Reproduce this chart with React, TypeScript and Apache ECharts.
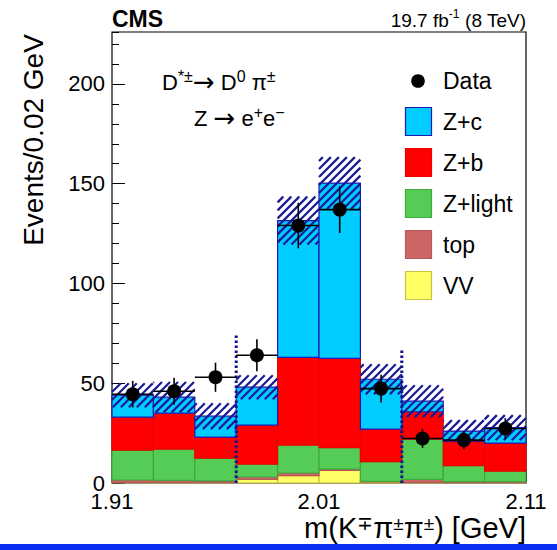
import React, { useEffect, useRef } from 'react';
import * as echarts from 'echarts';

// ---- data ----
const binEdges = [1.91, 1.93, 1.95, 1.97, 1.99, 2.01, 2.03, 2.05, 2.07, 2.09, 2.11];
const vvValues = [0.3, 0.3, 0.3, 1.8, 3.7, 6.3, 0.5, 0.3, 0.2, 0.2];
const topValues = [1.2, 1.0, 0.8, 1.2, 1.3, 0.7, 0.3, 1.5, 0.5, 0.5];
const zLightValues = [15.0, 15.7, 11.4, 6.5, 14.0, 10.7, 9.9, 20.2, 8.0, 5.3];
const zbValues = [16.5, 18.0, 10.5, 19.5, 44.0, 44.8, 16.3, 13.7, 12.3, 14.0];
const zcValues = [11.0, 8.0, 10.5, 19.0, 68.5, 87.8, 25.0, 5.3, 5.0, 7.7];
const mcUncertainty = [6.0, 7.6, 6.5, 6.0, 12.0, 13.0, 7.5, 8.0, 5.5, 6.3];
const dataValues = [44.5, 46, 53, 64, 129, 137, 47.3, 22.3, 21.5, 27.3];
const dataErrors = [6.7, 6.8, 7.3, 8.0, 11.4, 11.7, 6.9, 4.7, 4.6, 5.2];
const signalEdges = [1.97, 2.05];
const signalLineTops = [74.5, 67.5];
const xTickLabels = ['1.91', '2.01', '2.11'];
const yTickLabels = ['0', '50', '100', '150', '200'];

const componentNames = ['VV', 'top', 'Z+light', 'Z+b', 'Z+c'];
const componentValues = [vvValues, topValues, zLightValues, zbValues, zcValues];
const componentFill = ['#ffff66', '#cc6666', '#55cc55', '#ff0000', '#00ccff'];
const componentStroke = ['#c8c040', '#b85858', '#3fa83f', '#ee0000', '#1a1ab8'];

const FONT = '"Liberation Sans", Arial, Helvetica, sans-serif';

function App() {
  const ref = useRef<HTMLDivElement>(null);
  useEffect(() => {
    if (!ref.current) return;
    const chart = echarts.init(ref.current, null, { renderer: 'svg' });
    const nBins = binEdges.length - 1;

    // cumulative stacks
    const bases: number[] = new Array(nBins).fill(0);
    const stackSeries: any[] = componentValues.map((vals, k) => {
      const data = vals.map((v, i) => {
        const b = bases[i];
        bases[i] = b + v;
        return [binEdges[i], binEdges[i + 1], b, b + v];
      });
      return {
        type: 'custom',
        name: componentNames[k],
        xAxisIndex: 0,
        yAxisIndex: 0,
        encode: { x: [0, 1], y: [2, 3] },
        data,
        z: 2,
        renderItem: (params: any, api: any) => {
          const p0 = api.coord([api.value(0), api.value(3)]);
          const p1 = api.coord([api.value(1), api.value(2)]);
          return {
            type: 'rect',
            shape: { x: p0[0], y: p0[1], width: p1[0] - p0[0], height: p1[1] - p0[1] },
            style: { fill: componentFill[k], stroke: componentStroke[k], lineWidth: 1.2 },
          };
        },
      };
    });
    const totals = bases.slice();

    const hatchData = totals.map((t, i) => [binEdges[i], binEdges[i + 1], t - mcUncertainty[i], t + mcUncertainty[i]]);
    const hatchSeries = {
      type: 'custom',
      name: 'uncertainty',
      xAxisIndex: 0,
      yAxisIndex: 0,
      encode: { x: [0, 1], y: [2, 3] },
      data: hatchData,
      z: 3,
      renderItem: (params: any, api: any) => {
        const p0 = api.coord([api.value(0), api.value(3)]);
        const p1 = api.coord([api.value(1), api.value(2)]);
        const x0 = p0[0], x1 = p1[0], yT = p0[1], yB = p1[1];
        const s = 8;
        const children: any[] = [];
        const cMin = x0 + yT, cMax = x1 + yB;
        for (let c = Math.ceil(cMin / s) * s; c <= cMax; c += s) {
          const xa = Math.max(x0, c - yB);
          const xb = Math.min(x1, c - yT);
          if (xb - xa > 0.5) {
            children.push({
              type: 'line',
              shape: { x1: xa, y1: c - xa, x2: xb, y2: c - xb },
              style: { stroke: '#1a1a96', lineWidth: 2.2 },
            });
          }
        }
        return { type: 'group', children };
      },
    };

    const signalSeries = {
      type: 'custom',
      name: 'signal window',
      xAxisIndex: 0,
      yAxisIndex: 0,
      encode: { x: 0, y: [1, 2] },
      data: signalEdges.map((e, i) => [e, 0, signalLineTops[i]]),
      z: 4,
      renderItem: (params: any, api: any) => {
        const a = api.coord([api.value(0), api.value(1)]);
        const b = api.coord([api.value(0), api.value(2)]);
        return {
          type: 'line',
          shape: { x1: a[0], y1: a[1], x2: b[0], y2: b[1] },
          style: { stroke: '#121290', lineWidth: 3, lineDash: [2.5, 2.5] },
        };
      },
    };

    const errSeries = {
      type: 'custom',
      name: 'Data errors',
      xAxisIndex: 0,
      yAxisIndex: 0,
      encode: { x: [0, 1], y: [2, 3] },
      data: dataValues.map((v, i) => [binEdges[i], binEdges[i + 1], v - dataErrors[i], v + dataErrors[i], v]),
      z: 5,
      renderItem: (params: any, api: any) => {
        const xc = (api.value(0) + api.value(1)) / 2;
        const lo = api.coord([xc, api.value(2)]);
        const hi = api.coord([xc, api.value(3)]);
        const l = api.coord([api.value(0), api.value(4)]);
        const r = api.coord([api.value(1), api.value(4)]);
        return {
          type: 'group',
          children: [
            { type: 'line', shape: { x1: lo[0], y1: lo[1], x2: hi[0], y2: hi[1] }, style: { stroke: '#000', lineWidth: 1.6 } },
            { type: 'line', shape: { x1: l[0], y1: l[1], x2: r[0], y2: r[1] }, style: { stroke: '#000', lineWidth: 1.6 } },
          ],
        };
      },
    };

    const pointSeries = {
      type: 'scatter',
      name: 'Data',
      xAxisIndex: 0,
      yAxisIndex: 0,
      symbol: 'circle',
      symbolSize: 14,
      itemStyle: { color: '#000', opacity: 1 },
      z: 6,
      data: dataValues.map((v, i) => [(binEdges[i] + binEdges[i + 1]) / 2, v]),
    };

    // legend (drawn as graphic)
    const legendOrder = [4, 3, 2, 1, 0];
    const legendGraphics: any[] = [
      { type: 'circle', shape: { cx: 418, cy: 81, r: 6.8 }, style: { fill: '#000' } },
      { type: 'text', x: 443, y: 81, style: { text: 'Data', font: `23px ${FONT}`, fill: '#000', align: 'left', verticalAlign: 'middle', textAlign: 'left', textVerticalAlign: 'middle' } },
    ];
    legendOrder.forEach((k, j) => {
      const cy = 121.5 + j * 41;
      legendGraphics.push({ type: 'rect', shape: { x: 405.5, y: cy - 14, width: 26, height: 28 }, style: { fill: componentFill[k], stroke: componentStroke[k], lineWidth: 1.2 } });
      legendGraphics.push({ type: 'text', x: 443, y: cy, style: { text: componentNames[k], font: `23px ${FONT}`, fill: '#000', align: 'left', verticalAlign: 'middle', textAlign: 'left', textVerticalAlign: 'middle' } });
    });

    const richBase = (size: number, sup: number, lh: number = size + 6) => ({
      n: { fontSize: size, fontFamily: FONT, lineHeight: lh, color: '#000' },
      s: { fontSize: sup, fontFamily: FONT, lineHeight: sup, verticalAlign: 'top', color: '#000' },
      a: { fontSize: size + 4, fontFamily: '"DejaVu Sans", sans-serif', lineHeight: lh, color: '#000' },
    });

    const textGraphics: any[] = [
      { type: 'text', x: 112, y: 19, style: { text: 'CMS', font: `bold 23px ${FONT}`, fill: '#000', align: 'left', verticalAlign: 'middle', textAlign: 'left', textVerticalAlign: 'middle' } },
      { type: 'text', x: 526, y: 20, style: { text: '{n|19.7 fb}{s|-1}{n| (8 TeV)}', rich: richBase(19, 12), align: 'right', verticalAlign: 'middle', textAlign: 'right', textVerticalAlign: 'middle' } },
      { type: 'text', x: 162, y: 82, style: { text: '{n|D}{s|*±}{a|→}{n| D}{s|0}{n| π}{s|±}', rich: richBase(22, 16), align: 'left', verticalAlign: 'middle', textAlign: 'left', textVerticalAlign: 'middle' } },
      { type: 'text', x: 194, y: 118, style: { text: '{n|Z }{a|→}{n| e}{s|+}{n|e}{s|−}', rich: richBase(22, 16), align: 'left', verticalAlign: 'middle', textAlign: 'left', textVerticalAlign: 'middle' } },
      { type: 'text', x: 33, y: 140, rotation: Math.PI / 2, style: { text: 'Events/0.02 GeV', font: `28px ${FONT}`, fill: '#000', align: 'center', verticalAlign: 'middle', textAlign: 'center', textVerticalAlign: 'middle' } },
      { type: 'text', x: 526, y: 528, style: { text: '{n|m(K}{s|∓}{n|π}{s|±}{n|π}{s|±}{n|) [GeV]}', rich: richBase(29, 19, 28), align: 'right', verticalAlign: 'middle', textAlign: 'right', textVerticalAlign: 'middle' } },
      { type: 'rect', shape: { x: 0, y: 544, width: 557, height: 6 }, style: { fill: '#0a30f5' } },
    ];

    const option: any = {
      animation: false,
      backgroundColor: '#fff',
      grid: { left: 112, right: 31, top: 32, bottom: 67, show: true, borderColor: '#000', borderWidth: 1.2, backgroundColor: 'transparent', containLabel: false },
      xAxis: [{
        type: 'value',
        min: 1.91,
        max: 2.11,
        interval: 0.1,
        axisLine: { show: false },
        axisTick: { show: true, inside: true, length: 13, lineStyle: { color: '#000' } },
        minorTick: { show: true, splitNumber: 5, length: 7, lineStyle: { color: '#000' } },
        splitLine: { show: false },
        axisLabel: {
          show: true, margin: 9, fontSize: 22, lineHeight: 18, fontFamily: FONT, color: '#000',
          showMinLabel: true, showMaxLabel: true,
          formatter: (v: number) => {
            const t = v.toFixed(2);
            return xTickLabels.indexOf(t) >= 0 ? t : '';
          },
        },
      }],
      yAxis: [
        {
          type: 'value', min: 0, max: 226, interval: 50, position: 'left',
          axisLine: { show: false },
          axisTick: { show: true, inside: true, length: 13, lineStyle: { color: '#000' } },
          splitLine: { show: false },
          axisLabel: {
            show: true, margin: 7, fontSize: 22, lineHeight: 16, padding: [0, 0, 4, 0], fontFamily: FONT, color: '#000', showMaxLabel: false,
            formatter: (v: number) => (yTickLabels.indexOf(String(Math.round(v))) >= 0 && Math.abs(v - Math.round(v)) < 1e-6 ? String(Math.round(v)) : ''),
          },
        },
        {
          type: 'value', min: 0, max: 226, interval: 10, position: 'left', offset: 0,
          axisLine: { show: false },
          axisTick: { show: true, inside: true, length: 7, lineStyle: { color: '#000' } },
          splitLine: { show: false },
          axisLabel: { show: false },
        },
      ],
      series: [...stackSeries, hatchSeries, signalSeries, errSeries, pointSeries],
      graphic: { elements: [...legendGraphics, ...textGraphics] },
    };
    chart.setOption(option);
    return () => chart.dispose();
  }, []);
  return <div ref={ref} style={{ position: 'fixed', left: 0, top: 0, width: 557, height: 550 }} />;
}

export default App;
